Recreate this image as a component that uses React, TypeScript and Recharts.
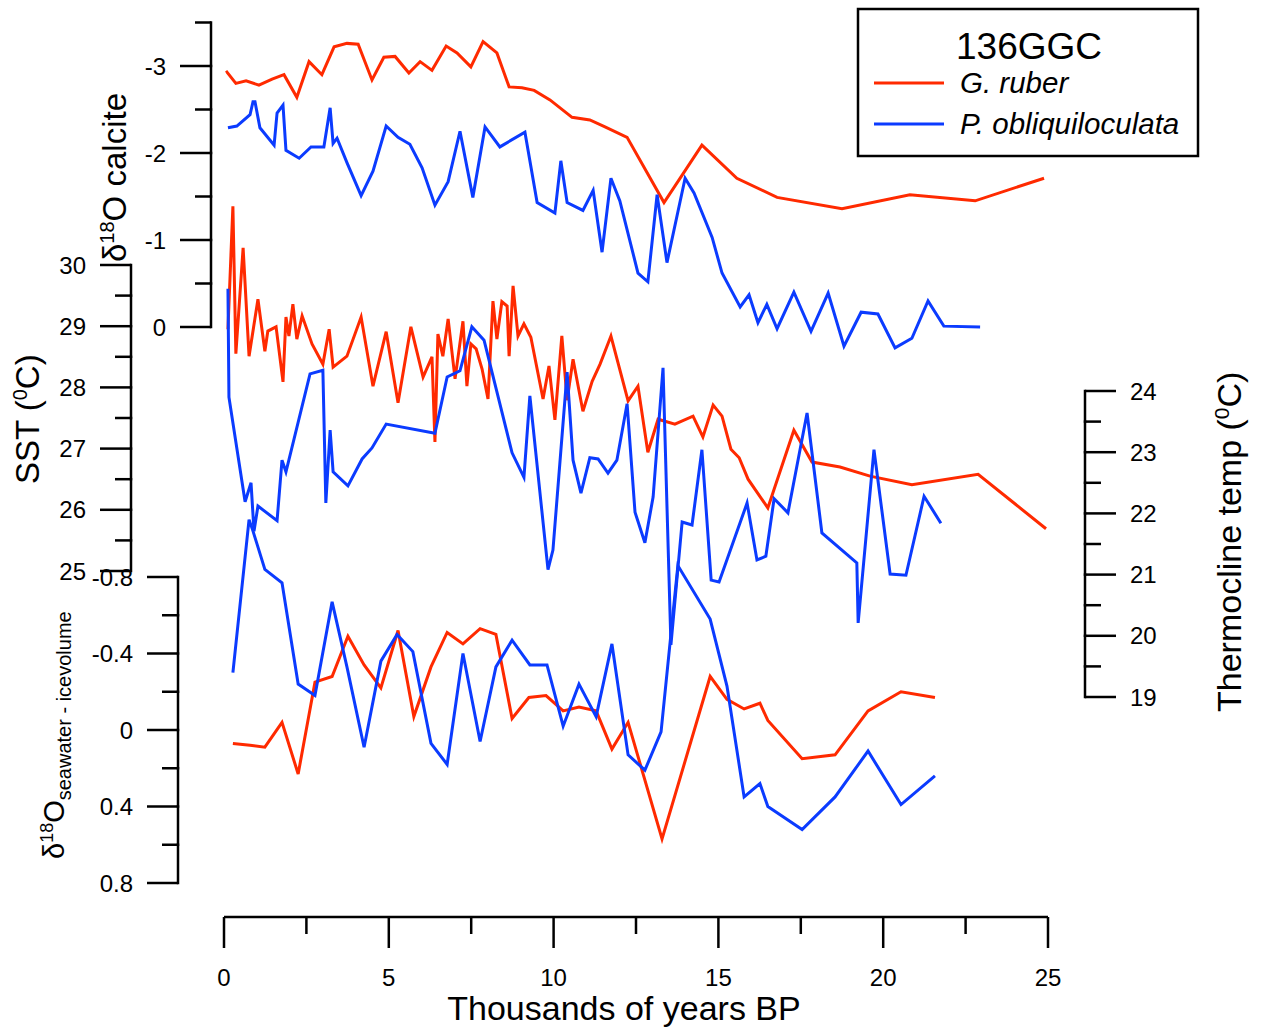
import { LineChart, Line, XAxis, YAxis } from "recharts";

const W = 1262;
const H = 1030;
const PLOT_LEFT = 224;
const PLOT_RIGHT = 1048;
const PLOT_TOP = 10;
const PLOT_BOTTOM = 917;
const X_AXIS_H = 60;
const Y_AXIS_W = 60;
const RED = "#ff2a00";
const BLUE = "#0b3bff";
const FONT = "'Liberation Sans', Arial, Helvetica, sans-serif";

// age axis (thousands of years BP)
const ageTicks = [0, 2.5, 5, 7.5, 10, 12.5, 15, 17.5, 20, 22.5, 25];
const ageLabels = [0, 5, 10, 15, 20, 25];

// d18O calcite, G. ruber
const rubCalcAge = [0.06, 0.09, 0.36, 0.67, 1.06, 1.46, 1.82, 2.21, 2.58, 2.97, 3.34, 3.73, 4.07, 4.49, 4.85, 5.19, 5.61, 5.95, 6.31, 6.74, 7.07, 7.49, 7.86, 8.28, 8.65, 9.04, 9.41, 9.89, 10.56, 11.1, 11.56, 12.23, 13.35, 14.5, 15.56, 16.78, 18.75, 20.81, 22.79, 24.88];
const rubCalcVal = [-2.92, -2.93, -2.8, -2.83, -2.78, -2.85, -2.9, -2.64, -3.05, -2.9, -3.22, -3.26, -3.25, -2.84, -3.1, -3.11, -2.92, -3.05, -2.95, -3.23, -3.15, -2.99, -3.28, -3.15, -2.76, -2.75, -2.72, -2.61, -2.41, -2.38, -2.3, -2.18, -1.43, -2.09, -1.71, -1.49, -1.36, -1.52, -1.45, -1.71];

// d18O calcite, P. obliquiloculata
const obqCalcAge = [0.12, 0.39, 0.79, 0.88, 0.94, 1.09, 1.52, 1.61, 1.79, 1.88, 2.28, 2.64, 3.03, 3.22, 3.31, 3.43, 3.73, 4.16, 4.52, 4.92, 5.28, 5.64, 6.01, 6.4, 6.8, 7.16, 7.55, 7.92, 8.37, 9.13, 9.5, 10.04, 10.22, 10.41, 10.89, 11.2, 11.47, 11.74, 12.01, 12.56, 12.86, 13.14, 13.44, 13.99, 14.26, 14.81, 15.11, 15.66, 15.93, 16.2, 16.47, 16.78, 17.29, 17.81, 18.33, 18.81, 19.33, 19.84, 20.36, 20.87, 21.36, 21.84, 22.94];
const obqCalcVal = [-2.29, -2.31, -2.44, -2.59, -2.59, -2.29, -2.09, -2.46, -2.55, -2.03, -1.94, -2.07, -2.07, -2.52, -2.11, -2.17, -1.89, -1.51, -1.79, -2.31, -2.18, -2.1, -1.83, -1.4, -1.67, -2.25, -1.49, -2.3, -2.07, -2.24, -1.43, -1.31, -1.91, -1.43, -1.34, -1.57, -0.86, -1.71, -1.45, -0.62, -0.52, -1.52, -0.74, -1.71, -1.54, -1.03, -0.62, -0.23, -0.37, -0.05, -0.26, 0.02, -0.4, 0.05, -0.39, 0.22, -0.17, -0.15, 0.24, 0.13, -0.3, -0.01, 0.0];

// SST (G. ruber)
const sstAge = [0.12, 0.27, 0.36, 0.58, 0.76, 1.03, 1.24, 1.33, 1.58, 1.79, 1.88, 1.97, 2.09, 2.21, 2.37, 2.67, 3.0, 3.19, 3.31, 3.73, 4.16, 4.52, 4.92, 5.28, 5.67, 6.04, 6.31, 6.4, 6.49, 6.64, 6.8, 7.01, 7.25, 7.37, 7.49, 7.65, 7.83, 8.01, 8.16, 8.28, 8.43, 8.59, 8.65, 8.77, 8.92, 9.1, 9.31, 9.68, 9.86, 10.04, 10.25, 10.41, 10.59, 10.89, 11.17, 11.41, 11.74, 12.26, 12.56, 12.86, 13.17, 13.68, 14.23, 14.53, 14.84, 15.11, 15.38, 15.63, 15.9, 16.5, 17.29, 17.84, 18.69, 19.6, 20.87, 22.88, 24.94];
const sstVal = [28.95, 30.96, 28.55, 30.28, 28.51, 29.44, 28.59, 28.92, 28.99, 28.09, 29.15, 28.84, 29.36, 28.79, 29.17, 28.71, 28.38, 28.95, 28.33, 28.51, 29.15, 28.02, 28.91, 27.75, 28.99, 28.17, 28.5, 27.11, 28.87, 28.51, 29.12, 28.14, 29.08, 28.02, 28.71, 28.63, 28.3, 27.81, 29.41, 28.79, 29.4, 29.33, 28.51, 29.66, 28.84, 29.04, 28.82, 27.81, 28.35, 27.47, 28.84, 27.79, 28.46, 27.61, 28.1, 28.38, 28.84, 27.78, 28.02, 26.94, 27.48, 27.4, 27.53, 27.19, 27.71, 27.53, 26.99, 26.85, 26.5, 26.03, 27.3, 26.78, 26.7, 26.55, 26.41, 26.58, 25.69];

// Thermocline temperature (P. obliquiloculata)
const thermoAge = [0.12, 0.15, 0.64, 0.82, 0.91, 1.03, 1.61, 1.76, 1.88, 2.61, 3.0, 3.09, 3.22, 3.31, 3.76, 4.19, 4.49, 4.92, 6.4, 6.77, 7.16, 7.52, 7.89, 8.74, 9.1, 9.28, 9.83, 9.98, 10.41, 10.59, 10.83, 11.1, 11.35, 11.65, 11.92, 12.23, 12.47, 12.77, 13.02, 13.32, 13.56, 13.9, 14.2, 14.5, 14.78, 15.02, 15.87, 16.17, 16.44, 16.69, 17.11, 17.69, 18.14, 19.2, 19.24, 19.72, 20.21, 20.69, 21.24, 21.75];
const thermoVal = [25.67, 23.9, 22.19, 22.5, 21.71, 22.12, 21.88, 22.87, 22.68, 24.28, 24.34, 22.17, 23.36, 22.68, 22.45, 22.89, 23.07, 23.46, 23.31, 24.23, 24.33, 25.05, 24.83, 22.99, 22.59, 23.92, 21.08, 21.4, 24.31, 22.87, 22.33, 22.91, 22.89, 22.66, 22.87, 23.79, 22.02, 21.52, 22.27, 24.38, 19.85, 21.86, 21.81, 23.04, 20.91, 20.88, 22.17, 21.24, 21.3, 22.24, 22.01, 23.64, 21.68, 21.19, 20.21, 23.04, 21.01, 20.99, 22.28, 21.84];

// d18O seawater - ice volume
const rubSwAge = [0.27, 0.79, 1.24, 1.76, 2.25, 2.76, 3.28, 3.76, 4.25, 4.76, 5.28, 5.76, 6.28, 6.77, 7.25, 7.77, 8.25, 8.74, 9.25, 9.77, 10.29, 10.77, 11.29, 11.77, 12.26, 13.29, 14.75, 15.26, 15.78, 16.26, 16.5, 17.54, 18.54, 19.54, 20.54, 21.57];
const rubSwVal = [0.07, 0.08, 0.09, -0.04, 0.23, -0.25, -0.28, -0.49, -0.34, -0.22, -0.52, -0.07, -0.33, -0.51, -0.45, -0.53, -0.5, -0.06, -0.17, -0.18, -0.1, -0.12, -0.1, 0.1, -0.04, 0.57, -0.28, -0.16, -0.11, -0.14, -0.05, 0.15, 0.13, -0.1, -0.2, -0.17];
const obqSwAge = [0.27, 0.76, 0.88, 1.24, 1.76, 2.25, 2.76, 3.28, 3.73, 4.25, 4.76, 5.25, 5.73, 6.28, 6.77, 7.25, 7.77, 8.25, 8.74, 9.28, 9.8, 10.29, 10.77, 11.29, 11.77, 12.26, 12.77, 13.26, 13.77, 14.75, 15.26, 15.78, 16.26, 16.5, 17.54, 18.54, 19.54, 20.54, 21.57];
const obqSwVal = [-0.3, -1.1, -1.04, -0.84, -0.77, -0.24, -0.18, -0.67, -0.33, 0.09, -0.36, -0.5, -0.41, 0.07, 0.18, -0.4, 0.06, -0.33, -0.47, -0.34, -0.34, -0.02, -0.24, -0.07, -0.45, 0.13, 0.21, 0.01, -0.86, -0.58, -0.23, 0.35, 0.28, 0.4, 0.52, 0.35, 0.11, 0.39, 0.24];

// axis ticks
const calciteTicks = [-3.5, -3, -2.5, -2, -1.5, -1, -0.5, 0];
const calciteLabels = [-3, -2, -1, 0];
const sstTicks = [25, 25.5, 26, 26.5, 27, 27.5, 28, 28.5, 29, 29.5, 30];
const sstLabels = [25, 26, 27, 28, 29, 30];
const thermoTicks = [19, 19.5, 20, 20.5, 21, 21.5, 22, 22.5, 23, 23.5, 24];
const thermoLabels = [19, 20, 21, 22, 23, 24];
const swTicks = [-0.8, -0.6, -0.4, -0.2, 0, 0.2, 0.4, 0.6, 0.8];
const swLabels = [-0.8, -0.4, 0, 0.4, 0.8];

type Geom = {
  v1: number; p1: number; v2: number; p2: number;
  axisX: number; side: "left" | "right";
  ticks: number[]; labels: number[];
};

// where each stacked axis sits on the page
const calciteGeom: Geom = { v1: -3, p1: 66, v2: 0, p2: 327, axisX: 211, side: "left", ticks: calciteTicks, labels: calciteLabels };
const sstGeom: Geom = { v1: 30, p1: 265, v2: 25, p2: 571, axisX: 131, side: "left", ticks: sstTicks, labels: sstLabels };
const thermoGeom: Geom = { v1: 24, p1: 391, v2: 19, p2: 697, axisX: 1085, side: "right", ticks: thermoTicks, labels: thermoLabels };
const swGeom: Geom = { v1: -0.8, p1: 577, v2: 0.8, p2: 883, axisX: 178, side: "left", ticks: swTicks, labels: swLabels };

const zip = (xs: number[], ys: number[]) => xs.map((x, i) => ({ x, y: ys[i] }));

function scaleInfo(g: Geom) {
  const s = (g.p2 - g.p1) / (g.v2 - g.v1);
  const atTop = g.v1 + (PLOT_TOP - g.p1) / s;
  const atBottom = g.v1 + (PLOT_BOTTOM - g.p1) / s;
  return { s, domain: [Math.min(atTop, atBottom), Math.max(atTop, atBottom)], reversed: s > 0 };
}

function PanelTick(props: any) {
  const { y, payload, geom, s } = props;
  const v = payload.value;
  const i = geom.ticks.indexOf(v);
  const major = geom.labels.includes(v);
  const len = major ? 31 : 16;
  const dir = geom.side === "left" ? -1 : 1;
  const next = geom.ticks[i + 1];
  return (
    <g>
      <line x1={geom.axisX} x2={geom.axisX + dir * len} y1={y} y2={y} stroke="#000" strokeWidth={2.5} />
      {next !== undefined && (
        <line x1={geom.axisX} x2={geom.axisX} y1={y} y2={y + (next - v) * s} stroke="#000" strokeWidth={2.5} strokeLinecap="square" />
      )}
      {major && (
        <text x={geom.axisX + dir * (len + 14)} y={y} dy="0.36em" textAnchor={dir < 0 ? "end" : "start"} fontSize={24} fontFamily={FONT} fill="#000">
          {String(v)}
        </text>
      )}
    </g>
  );
}

function AgeTick(props: any) {
  const { x, payload } = props;
  const v = payload.value;
  const major = ageLabels.includes(v);
  return (
    <g>
      <line x1={x} x2={x} y1={PLOT_BOTTOM} y2={PLOT_BOTTOM + (major ? 31 : 17)} stroke="#000" strokeWidth={2.5} />
      {major && (
        <text x={x} y={PLOT_BOTTOM + 60} dy="0.36em" textAnchor="middle" fontSize={24} fontFamily={FONT} fill="#000">
          {String(v)}
        </text>
      )}
    </g>
  );
}

type Series = { name: string; color: string; data: { x: number; y: number }[] };

function Panel({ geom, series, showAgeAxis }: { geom: Geom; series: Series[]; showAgeAxis: boolean }) {
  const { s, domain, reversed } = scaleInfo(geom);
  const right = geom.side === "right";
  const margin = {
    top: PLOT_TOP,
    bottom: H - PLOT_BOTTOM - X_AXIS_H,
    left: right ? PLOT_LEFT : PLOT_LEFT - Y_AXIS_W,
    right: right ? W - PLOT_RIGHT - Y_AXIS_W : W - PLOT_RIGHT,
  };
  return (
    <div style={{ position: "absolute", left: 0, top: 0 }}>
      <LineChart width={W} height={H} margin={margin}>
        <XAxis
          dataKey="x"
          type="number"
          domain={[0, 25]}
          allowDataOverflow
          ticks={ageTicks}
          interval={0}
          height={X_AXIS_H}
          axisLine={showAgeAxis ? { stroke: "#000", strokeWidth: 2.5 } : false}
          tickLine={false}
          tick={showAgeAxis ? (p: any) => <AgeTick {...p} /> : false}
        />
        <YAxis
          type="number"
          orientation={geom.side}
          width={Y_AXIS_W}
          domain={domain}
          reversed={reversed}
          allowDataOverflow
          ticks={geom.ticks}
          interval={0}
          axisLine={false}
          tickLine={false}
          tick={(p: any) => <PanelTick {...p} geom={geom} s={s} />}
        />
        {series.map((sr) => (
          <Line
            key={sr.name}
            name={sr.name}
            data={sr.data}
            dataKey="y"
            type="linear"
            stroke={sr.color}
            strokeWidth={3}
            dot={false}
            activeDot={false}
            isAnimationActive={false}
          />
        ))}
      </LineChart>
    </div>
  );
}

function Titles() {
  const t = { fontFamily: FONT, fill: "#000" };
  return (
    <svg width={W} height={H} style={{ position: "absolute", left: 0, top: 0, pointerEvents: "none" }}>
      <text {...t} transform="translate(126,262) rotate(-90)" fontSize={33}>
        δ<tspan fontSize={20} dy={-12}>18</tspan>
        <tspan dy={12}>O calcite</tspan>
      </text>
      <text {...t} transform="translate(39,484) rotate(-90)" fontSize={33}>
        SST (<tspan fontSize={20} dy={-12}>0</tspan>
        <tspan dy={12}>C)</tspan>
      </text>
      <text {...t} transform="translate(1241,712) rotate(-90)" fontSize={34}>
        Thermocline temp (<tspan fontSize={21} dy={-12}>0</tspan>
        <tspan dy={12}>C)</tspan>
      </text>
      <text {...t} transform="translate(64,859) rotate(-90)" fontSize={29}>
        δ<tspan fontSize={18} dy={-11}>18</tspan>
        <tspan dy={11}>O</tspan>
        <tspan fontSize={20} dy={7}>seawater - icevolume</tspan>
      </text>
      <text {...t} x={624} y={1020} textAnchor="middle" fontSize={34}>
        Thousands of years BP
      </text>

      <rect x={858} y={9} width={340} height={147} fill="#fff" stroke="#000" strokeWidth={2.5} />
      <text {...t} x={1029} y={59} textAnchor="middle" fontSize={37}>
        136GGC
      </text>
      <line x1={874} x2={944} y1={83} y2={83} stroke={RED} strokeWidth={3} />
      <text {...t} x={960} y={93} fontSize={29.5} fontStyle="italic">
        G. ruber
      </text>
      <line x1={874} x2={944} y1={124} y2={124} stroke={BLUE} strokeWidth={3} />
      <text {...t} x={960} y={134} fontSize={29.5} fontStyle="italic">
        P. obliquiloculata
      </text>
    </svg>
  );
}

export default function App() {
  return (
    <div style={{ position: "absolute", left: 0, top: 0, width: W, height: H, background: "#fff" }}>
      <Panel
        geom={calciteGeom}
        showAgeAxis
        series={[
          { name: "G. ruber", color: RED, data: zip(rubCalcAge, rubCalcVal) },
          { name: "P. obliquiloculata", color: BLUE, data: zip(obqCalcAge, obqCalcVal) },
        ]}
      />
      <Panel geom={sstGeom} showAgeAxis={false} series={[{ name: "SST", color: RED, data: zip(sstAge, sstVal) }]} />
      <Panel geom={thermoGeom} showAgeAxis={false} series={[{ name: "Thermocline", color: BLUE, data: zip(thermoAge, thermoVal) }]} />
      <Panel
        geom={swGeom}
        showAgeAxis={false}
        series={[
          { name: "G. ruber sw", color: RED, data: zip(rubSwAge, rubSwVal) },
          { name: "P. obliquiloculata sw", color: BLUE, data: zip(obqSwAge, obqSwVal) },
        ]}
      />
      <Titles />
    </div>
  );
}
